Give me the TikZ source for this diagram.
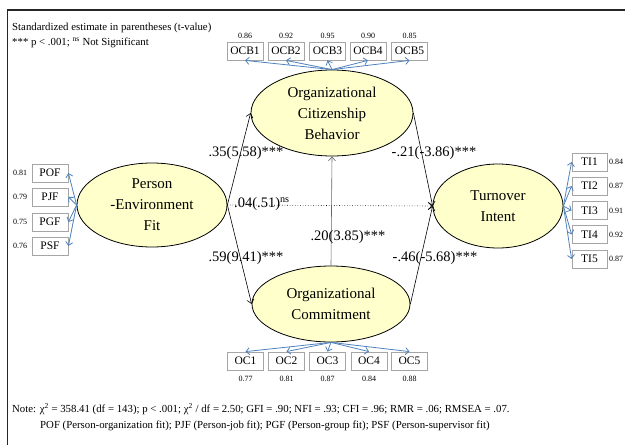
\documentclass[tikz,border=0pt]{standalone}
\usepackage{fontspec}
\setmainfont{Liberation Serif}
\usetikzlibrary{arrows.meta,shapes.geometric}
\definecolor{latfill}{RGB}{255,255,204}
\definecolor{indblue}{RGB}{79,129,189}
\definecolor{boxgray}{RGB}{165,165,165}
\begin{document}
\begin{tikzpicture}[x=1pt,y=-1pt,
  latent/.style={ellipse,draw=black,line width=0.8pt,fill=latfill,inner sep=0pt,align=center,font=\fontsize{15}{21}\selectfont},
  indbox/.style={rectangle,draw=boxgray,line width=0.8pt,fill=white,minimum width=36pt,minimum height=18pt,inner sep=0pt,font=\fontsize{11.5}{12}\selectfont},
  loadval/.style={inner sep=0pt,font=\fontsize{8}{9}\selectfont},
  loading/.style={draw=indblue,line width=0.8pt,-{Straight Barb[length=3.5pt,width=7pt]}},
  path/.style={draw=black,line width=0.6pt,-{Straight Barb[length=4pt,width=7pt]}},
  plabel/.style={inner sep=0pt,font=\fontsize{14.5}{16}\selectfont},
  notetext/.style={inner sep=0pt,anchor=west,font=\fontsize{10.8}{12}\selectfont},
]
\useasboundingbox (0,0) rectangle (625,445);
% frame
\draw[line width=1.2pt,black!85] (7.5,445) -- (7.5,10) -- (625,10);

% header text
\node[notetext,font=\fontsize{10.8}{12}\selectfont] (h1) at (12,28) {Standardized estimate in parentheses (t-value)};
\node[notetext,font=\fontsize{10.8}{12}\selectfont] (h2) at (12,43) {*** p < .001; \textsuperscript{ns} Not Significant};

% latent variables
\node[latent,minimum width=150pt,minimum height=84pt] (pef) at (152,205) {Person\\-Environment\\Fit};
\node[latent,minimum width=162pt,minimum height=86pt] (ocb) at (332,113) {Organizational\\Citizenship\\Behavior};
\node[latent,minimum width=158pt,minimum height=76pt] (oc) at (331,304) {Organizational\\Commitment};
\node[latent,minimum width=130pt,minimum height=84pt] (ti) at (498,206) {Turnover\\Intent};

% OCB indicators
\foreach \i/\x/\v in {1/245/0.86,2/286/0.92,3/327.5/0.95,4/368/0.90,5/409.5/0.85}{
  \node[indbox] (ocb\i) at (\x,51) {OCB\i};
  \node[loadval] (ocbv\i) at (\x,36) {\v};
  \draw[loading] (ocb.north) -- (ocb\i.south);
}
% OC indicators
\foreach \i/\x/\v in {1/245.5/0.77,2/286.5/0.81,3/327.5/0.87,4/369/0.84,5/409.5/0.88}{
  \node[indbox] (oc\i) at (\x,361) {OC\i};
  \node[loadval] (ocv\i) at (\x,379) {\v};
  \draw[loading] (oc.south) -- (oc\i.north);
}
% PEF indicators
\foreach \n/\y/\v in {POF/173/0.81,PJF/197/0.79,PGF/222/0.75,PSF/246/0.76}{
  \node[indbox] (\n) at (50,\y) {\n};
  \node[loadval] (\n v) at (20,\y) {\v};
  \draw[loading] (pef.west) -- (\n.east);
}
% TI indicators
\foreach \i/\y/\v in {1/162/0.84,2/186/0.87,3/210.5/0.91,4/234.5/0.92,5/259/0.87}{
  \node[indbox,minimum width=35pt] (ti\i) at (589.5,\y) {TI\i};
  \node[loadval,anchor=west] (tiv\i) at (609,\y) {\v};
  \draw[loading] (ti.east) -- (ti\i.west);
}

% structural paths
\draw[path] (pef.east) -- (ocb.west);
\draw[path] (pef.east) -- (oc.west);
\draw[path] (ocb.east) -- (ti.west);
\draw[path] (oc.east) -- (ti.west);
\draw[path,dotted] (pef.east) -- (ti.west);
\draw[path,draw=black!60] (oc.north) -- (ocb.south);

% path labels
\node[plabel] (l1) at (246,153) {.35(5.58)***};
\node[plabel] (l2) at (246,258) {.59(9.41)***};
\node[plabel] (l3) at (434,153) {-.21(-3.86)***};
\node[plabel] (l4) at (435,258) {-.46(-5.68)***};
\node[plabel] (l5) at (348,237) {.20(3.85)***};
\node[plabel,anchor=west] (l6) at (234,204) {.04(.51)\textsuperscript{ns}};

% note
\node[notetext] (n1) at (12,409) {Note: χ\textsuperscript{2} = 358.41 (df = 143); p < .001; χ\textsuperscript{2} / df = 2.50; GFI = .90; NFI = .93; CFI = .96; RMR = .06; RMSEA = .07.};
\node[notetext] (n2) at (40,426) {POF (Person-organization fit); PJF (Person-job fit); PGF (Person-group fit); PSF (Person-supervisor fit)};
\end{tikzpicture}
\end{document}
